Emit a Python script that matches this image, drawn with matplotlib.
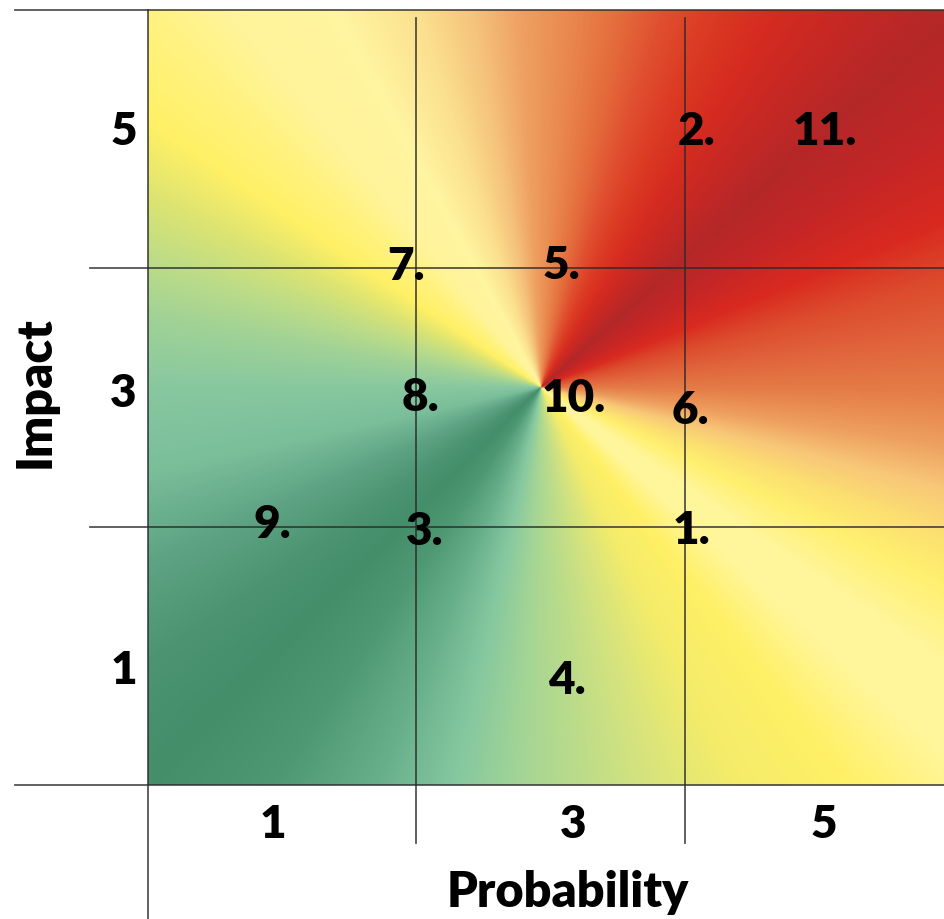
import numpy as np
import matplotlib
matplotlib.use('Agg')
import matplotlib.pyplot as plt
from matplotlib.colors import LinearSegmentedColormap

# risks: id label, probability, impact
risk_ids = ['1.', '2.', '3.', '4.', '5.', '6.', '7.', '8.', '9.', '10.', '11.']
probability = [4.05, 4.09, 2.06, 3.12, 3.08, 4.04, 1.92, 2.03, 0.93, 3.17, 5.04]
impact = [2.00, 5.09, 1.99, 0.84, 4.05, 2.93, 4.04, 3.03, 2.04, 3.02, 5.09]

prob_ticks = ['1', '3', '5']
prob_tick_pos = [0.93, 3.17, 5.04]
impact_ticks = ['1', '3', '5']
impact_tick_pos = [0.91, 3.06, 5.09]

grid_lines = [0, 2, 4, 6]

# angular colour stops (degrees, counter-clockwise from +x) of the background
grad_angles = [0, 8, 15, 22, 32, 42, 50, 58, 66, 72, 78, 86, 93, 100, 108, 118,
               130, 138, 146, 154, 162, 170, 180, 192, 204, 215, 225, 236, 248,
               258, 268, 276, 286, 296, 308, 318, 326, 334, 340, 346, 352, 360]
grad_colors = ['#e47a46', '#e0603a', '#dc4a2c', '#d92a20', '#c42626', '#b42828',
               '#c52824', '#d52b20', '#dc3c24', '#e05030', '#e46c3c', '#ea8a50',
               '#eea062', '#f5c27c', '#fbe08e', '#fff4a0', '#fff49a', '#fff27c',
               '#fff066', '#dce472', '#bcdc88', '#a0d296', '#88c8a0', '#7abe9a',
               '#5ea484', '#4c9472', '#448e6a', '#4f9874', '#68b08c', '#86c8a0',
               '#a6d694', '#bcdc8a', '#d8e47c', '#f4ec6a', '#fff066', '#fff69c',
               '#fff59a', '#fff070', '#fce070', '#f8c878', '#eea060', '#e47a46']
grad_center = (2.93, 3.08)

W, H = 944, 919
px_x, px_y = 134.2, 129.17   # pixels per data unit

fig = plt.figure(figsize=(W / 100, H / 100), dpi=100)
ax = fig.add_axes([148 / W, 134 / H, 796 / W, 775 / H])
xmax = 796 / px_x
ax.set_xlim(0, xmax)
ax.set_ylim(0, 6)

# conic gradient background
cmap = LinearSegmentedColormap.from_list(
    'risk', [(a / 360, c) for a, c in zip(grad_angles, grad_colors)], N=1024)
xs = np.linspace(0, xmax, 800)
ys = np.linspace(0, 6, 780)
gx, gy = np.meshgrid(xs, ys)
ang = np.degrees(np.arctan2((gy - grad_center[1]) * px_y,
                            (gx - grad_center[0]) * px_x)) % 360
ax.imshow(ang / 360, cmap=cmap, vmin=0, vmax=1, origin='lower',
          extent=[0, xmax, 0, 6], aspect='auto', interpolation='bilinear', zorder=0)

# grid lines, some running out past the matrix
lc = dict(color='#2a2a2a', lw=1.3, alpha=0.8, clip_on=False, zorder=2)
ax.plot([-0.99, xmax], [6, 6], **lc)
ax.plot([-0.43, xmax], [4, 4], **lc)
ax.plot([-0.43, xmax], [2, 2], **lc)
ax.plot([-0.99, xmax], [0, 0], **lc)
ax.plot([0, 0], [-1.04, 6], **lc)
ax.plot([2, 2], [-0.45, 5.94], **lc)
ax.plot([4, 4], [-0.45, 5.94], **lc)

for s in ax.spines.values():
    s.set_visible(False)

font = dict(family='Lato', weight='heavy', color='black')
ax.set_xticks(prob_tick_pos, prob_ticks, fontsize=33, **font)
ax.set_yticks(impact_tick_pos, impact_ticks, fontsize=33, **font)
ax.tick_params(length=0)
ax.tick_params(axis='x', pad=14)
ax.tick_params(axis='y', pad=8)

for rid, p, i in zip(risk_ids, probability, impact):
    ax.text(p, i, rid, ha='center', va='center_baseline', fontsize=33, zorder=3, **font)

fig.text(35 / W, 1 - 392 / H, 'Impact', rotation=90, ha='center', va='center',
         fontsize=35, **font)
fig.text(568 / W, 1 - 907 / H, 'Probability', ha='center', va='baseline',
         fontsize=35, **font)

fig.savefig('out.png', dpi=100)
